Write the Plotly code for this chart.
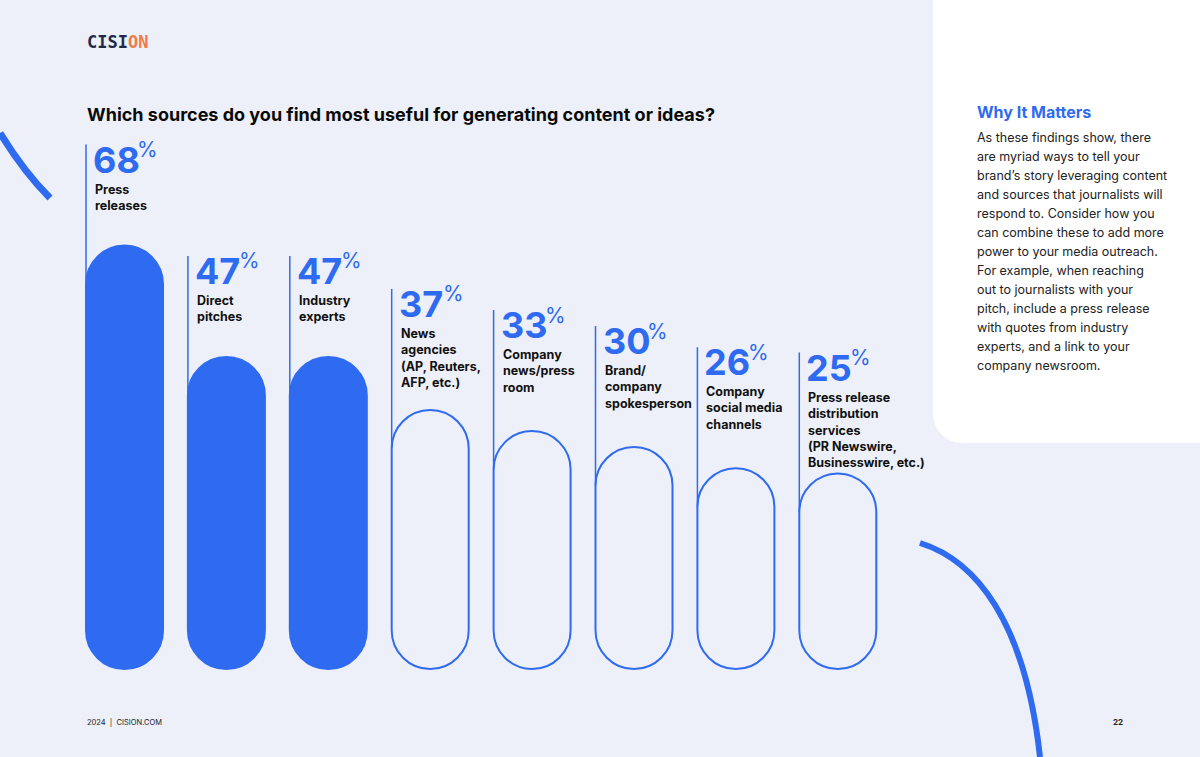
import plotly.graph_objects as go

# survey results
categories = [
    "Press<br>releases",
    "Direct<br>pitches",
    "Industry<br>experts",
    "News<br>agencies<br>(AP, Reuters,<br>AFP, etc.)",
    "Company<br>news/press<br>room",
    "Brand/<br>company<br>spokesperson",
    "Company<br>social media<br>channels",
    "Press release<br>distribution<br>services<br>(PR Newswire,<br>Businesswire, etc.)",
]
values = [68, 47, 47, 37, 33, 30, 26, 25]
filled = [True, True, True, False, False, False, False, False]

BLUE = "#2F6BF0"
BG = "#EDF0F8"
FONT = "Inter"

fig = go.Figure()
shapes = []
annotations = []

# pixel-like data space
base_y = 669
r = 38.5
k = 0.5523

def pill(l, t, b):
    rr = l + 2 * r
    cx = l + r
    return (f"M {l},{t+r} C {l},{t+r-k*r} {cx-k*r},{t} {cx},{t} "
            f"C {cx+k*r},{t} {rr},{t+r-k*r} {rr},{t+r} L {rr},{b-r} "
            f"C {rr},{b-r+k*r} {cx+k*r},{b} {cx},{b} "
            f"C {cx-k*r},{b} {l},{b-r+k*r} {l},{b-r} Z")

for i, (cat, v, f) in enumerate(zip(categories, values, filled)):
    left = 86 + i * 101.9
    top = base_y - (63 + 5.3 * v)
    line_top = top - (101 if f else 121)
    shapes.append(dict(type="line", x0=left, x1=left, y0=line_top, y1=top + r,
                       line=dict(color=BLUE, width=1.5), layer="below"))
    shapes.append(dict(type="path", path=pill(left, top, base_y),
                       fillcolor=BLUE if f else "rgba(0,0,0,0)",
                       line=dict(color=BLUE, width=2)))
    annotations.append(dict(x=left + 5, y=line_top + 15, xanchor="left", yanchor="middle",
                            text=f"<b>{v}</b>", showarrow=False,
                            font=dict(family=FONT, size=36, color=BLUE)))
    annotations.append(dict(x=left + 49, y=line_top + 5, xanchor="left", yanchor="middle",
                            text="%", showarrow=False,
                            font=dict(family=FONT, size=21, color=BLUE)))
    annotations.append(dict(x=left + 7, y=line_top + 35, xanchor="left", yanchor="top",
                            text=f"<b>{cat}</b>", showarrow=False, align="left",
                            font=dict(family=FONT, size=12.5, color="#111111")))

# right panel
shapes.append(dict(type="path", layer="below",
                   path="M 933,0 L 1200,0 L 1200,443 L 963,443 C 946,443 933,430 933,413 Z",
                   fillcolor="white", line=dict(width=0)))
# decorative arcs
shapes.append(dict(type="path", path="M 0,133 Q 24,172 50,198",
                   line=dict(color=BLUE, width=7)))
shapes.append(dict(type="path", path="M 920,543 C 975,560 1025,620 1040,757",
                   line=dict(color=BLUE, width=6)))

body_lines = ["As these findings show, there", "are myriad ways to tell your",
              "brand’s story leveraging content", "and sources that journalists will",
              "respond to. Consider how you", "can combine these to add more",
              "power to your media outreach.", "For example, when reaching",
              "out to journalists with your", "pitch, include a press release",
              "with quotes from industry", "experts, and a link to your",
              "company newsroom."]
for j, line in enumerate(body_lines):
    annotations.append(dict(x=975, y=137 + j * 19, xanchor="left", yanchor="middle",
                            showarrow=False, text=line,
                            font=dict(family=FONT, size=12.5, color="#222222")))

annotations += [
    dict(x=85, y=42, xanchor="left", yanchor="middle", showarrow=False,
         text="<b>CISI<span style='color:#F07B4A'>ON</span></b>",
         font=dict(family="DejaVu Sans Mono", size=17, color="#1F2A4A")),
    dict(x=85, y=114, xanchor="left", yanchor="middle", showarrow=False,
         text="<b>Which sources do you find most useful for generating content or ideas?</b>",
         font=dict(family=FONT, size=18, color="#0A0A0A")),
    dict(x=975, y=112, xanchor="left", yanchor="middle", showarrow=False,
         text="<b>Why It Matters</b>", font=dict(family=FONT, size=16, color=BLUE)),
    dict(x=85, y=722, xanchor="left", yanchor="middle", showarrow=False,
         text="2024  |  CISION.COM", font=dict(family=FONT, size=7.5, color="#222222")),
    dict(x=1125, y=722, xanchor="right", yanchor="middle", showarrow=False,
         text="<b>22</b>", font=dict(family=FONT, size=8, color="#222222")),
]

fig.update_layout(
    width=1200, height=757, margin=dict(l=0, r=0, t=0, b=0),
    paper_bgcolor=BG, plot_bgcolor=BG, showlegend=False,
    xaxis=dict(range=[0, 1200], visible=False, fixedrange=True),
    yaxis=dict(range=[757, 0], visible=False, fixedrange=True),
    shapes=shapes, annotations=annotations,
)
fig.write_html("out.html", config={"displayModeBar": False},
               post_script="document.body.style.margin='0';document.body.style.overflow='hidden';")
